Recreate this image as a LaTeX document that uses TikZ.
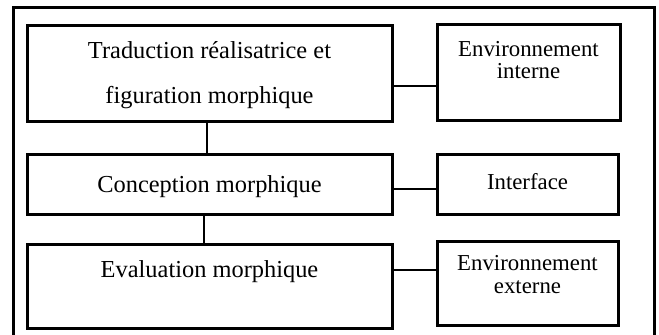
\documentclass[tikz,border=0pt]{standalone}
\usepackage{fontspec}
\setmainfont{Liberation Serif}
\usepackage{tikz}
\usetikzlibrary{positioning}

\begin{document}
\begin{tikzpicture}[x=0.5pt,y=-0.5pt,
  box/.style={draw=black,line width=1.5pt,rectangle,inner sep=0pt},
  mainbox/.style={box,minimum width=182.5pt},
  sidebox/.style={box,minimum width=90.5pt},
  maintxt/.style={anchor=base,inner sep=0pt,font=\fontsize{12.2}{14}\selectfont},
  sidetxt/.style={anchor=base,inner sep=0pt,font=\fontsize{11.4}{13}\selectfont},
  link/.style={draw=black,line width=1.3pt}
]
\useasboundingbox (0,0) rectangle (659,334);
% cadre ouvert
\draw[line width=1.5pt] (13,336) -- (13,7) -- (654,7) -- (654,336);

% colonne de gauche
\node[mainbox,minimum height=48pt] (trad) at (209.5,73) {};
\node[mainbox,minimum height=30pt] (conc) at (209.5,184) {};
\node[mainbox,minimum height=42pt] (eval) at (209.5,286) {};
\node[maintxt] (tradA) at (209.5,58) {Traduction réalisatrice et};
\node[maintxt] (tradB) at (209.5,103) {figuration morphique};
\node[maintxt] (concT) at (209.5,192) {Conception morphique};
\node[maintxt] (evalT) at (209.5,277) {Evaluation morphique};

% colonne de droite
\node[sidebox,minimum width=91.5pt,minimum height=48pt] (envint) at (528.5,72) {};
\node[sidebox,minimum height=30pt] (inter) at (527.5,184) {};
\node[sidebox,minimum height=42pt] (envext) at (527.5,283) {};
\node[sidetxt] (envintA) at (528.5,56) {Environnement};
\node[sidetxt] (envintB) at (528.5,78) {interne};
\node[sidetxt] (interT) at (527.5,189) {Interface};
\node[sidetxt] (envextA) at (527.5,270) {Environnement};
\node[sidetxt] (envextB) at (527.5,293) {externe};

% liaisons
\draw[link] ([xshift=-1.25pt]trad.south) -- ([xshift=-1.25pt]trad.south |- conc.north);
\draw[link] ([xshift=-2.75pt]conc.south) -- ([xshift=-2.75pt]conc.south |- eval.north);
\draw[link] ([yshift=-6.5pt]trad.east) -- ([yshift=-6.5pt]trad.east -| envint.west);
\draw[link] ([yshift=-2.5pt]conc.east) -- ([yshift=-2.5pt]conc.east -| inter.west);
\draw[link] ([yshift=8pt]eval.east) -- ([yshift=8pt]eval.east -| envext.west);
\end{tikzpicture}
\end{document}
